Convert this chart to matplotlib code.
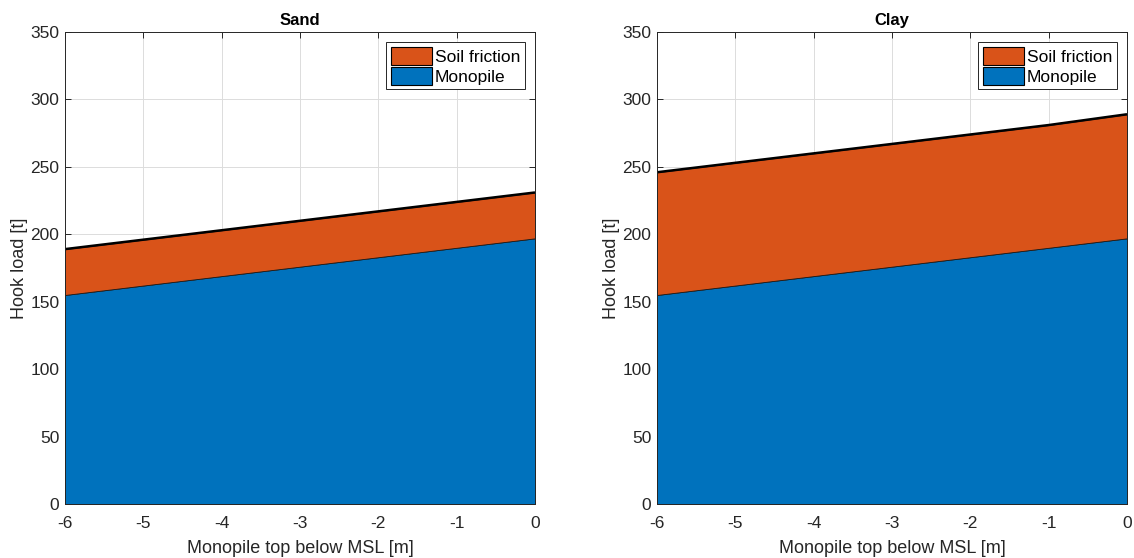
import matplotlib.pyplot as plt
import numpy as np

plt.rcParams["font.family"] = ["Liberation Sans", "DejaVu Sans"]
plt.rcParams["axes.unicode_minus"] = False

# Monopile top position below MSL [m]
depth = np.array([-6, -5, -4, -3, -2, -1, 0])

# Hook load contributions [t]
monopile = np.array([155, 162, 169, 176, 183, 190, 197])
friction_sand = np.array([34, 34, 34, 34, 34, 34, 34])
friction_clay = np.array([91, 91, 91, 91, 91, 91, 92])

cases = [("Sand", friction_sand), ("Clay", friction_clay)]

blue = "#0072bd"
orange = "#d95319"
axis_col = "#262626"

W, H = 1134, 558
fig = plt.figure(figsize=(W / 100, H / 100), dpi=100)
# axes boxes in pixels: left, top, right, bottom
boxes = [(65, 32, 535, 504), (657, 32, 1127, 504)]

for (x0, y0, x1, y1), (title, friction) in zip(boxes, cases):
    ax = fig.add_axes([x0 / W, 1 - y1 / H, (x1 - x0) / W, (y1 - y0) / H])
    total = monopile + friction
    h_mp = ax.fill_between(depth, 0, monopile, facecolor=blue,
                           edgecolor="#1a1a1a", linewidth=0.6, zorder=2)
    h_sf = ax.fill_between(depth, monopile, total, facecolor=orange,
                           edgecolor="#1a1a1a", linewidth=0.6, zorder=2)
    ax.plot(depth, total, color="black", linewidth=1.8, zorder=3,
            solid_capstyle="butt")

    ax.set_xlim(-6, 0)
    ax.set_ylim(0, 350)
    ax.set_xticks(np.arange(-6, 1, 1))
    ax.set_yticks(np.arange(0, 351, 50))
    ax.grid(True, color="#dcdcdc", linewidth=0.7, zorder=0)
    ax.set_axisbelow(True)
    ax.tick_params(direction="in", top=True, right=True, length=4,
                   width=0.7, colors=axis_col, labelsize=12.5)
    ax.tick_params(axis="x", pad=9)
    ax.tick_params(axis="y", pad=4)
    for sp in ax.spines.values():
        sp.set_color(axis_col)
        sp.set_linewidth(0.7)
        sp.set_zorder(4)

    ax.set_title(title, fontsize=12, fontweight="bold", pad=5)
    ax.set_xlabel("Monopile top below MSL [m]", fontsize=13, color=axis_col,
                  labelpad=6)
    ax.set_ylabel("Hook load [t]", fontsize=13, color=axis_col, labelpad=2)

    leg = ax.legend([h_sf, h_mp], ["Soil friction", "Monopile"], loc="upper right",
                    fontsize=12.5, fancybox=False, framealpha=1,
                    edgecolor="#262626", handlelength=2.4, handleheight=1.2,
                    handletextpad=0.15, borderpad=0.25, labelspacing=0.15,
                    borderaxespad=0.6)
    leg.get_frame().set_linewidth(0.7)
    for patch in leg.get_patches():
        patch.set_edgecolor("black")
        patch.set_linewidth(0.8)

fig.savefig("out.png", dpi=100)
